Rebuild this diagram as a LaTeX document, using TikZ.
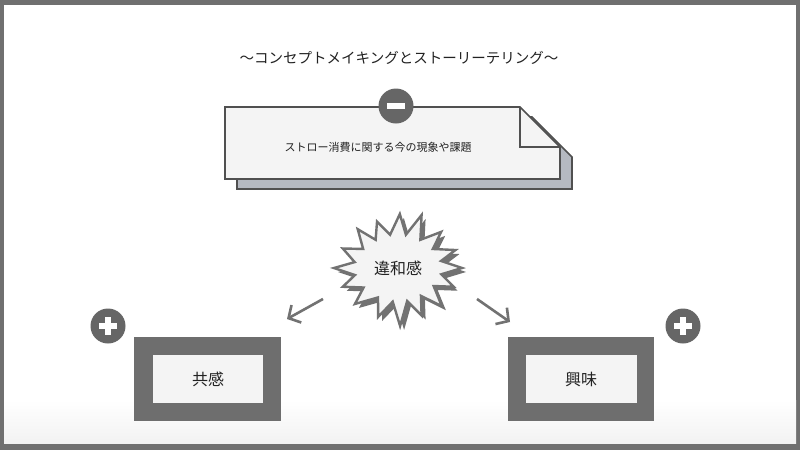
\documentclass[tikz,border=0pt]{standalone}
\usepackage{fontspec}
\newfontfamily\jp{Noto Sans CJK JP}
\usetikzlibrary{arrows.meta}
\definecolor{frame}{HTML}{707070}
\definecolor{boxdark}{HTML}{6E6E6E}
\definecolor{paper}{HTML}{F4F4F4}
\definecolor{circ}{HTML}{666666}
\definecolor{shadowblue}{HTML}{B5B9C1}
\definecolor{outline}{HTML}{505050}
\definecolor{txt}{HTML}{222222}
\definecolor{burst}{HTML}{727272}
\tikzset{
  lbl/.style={font=\jp, text=txt, inner sep=0pt},
  signcirc/.style={circle, fill=circ, minimum size=35pt, inner sep=0pt},
  signbar/.style={fill=white, draw=none},
  outerbox/.style={fill=boxdark, draw=none},
  innerbox/.style={fill=paper, draw=none},
  arr/.style={draw=burst, line width=2.6pt, -{Straight Barb[length=9pt,width=20pt,line width=2.6pt]}},
}
\begin{document}
\begin{tikzpicture}[x=1pt,y=-1pt]
\useasboundingbox (0,0) rectangle (800,450);
% frame
\fill[frame] (0,0) rectangle (800,450);
\fill[white] (4,5) rectangle (796,443);
\shade[top color=white, bottom color=black!5] (4,400) rectangle (796,443);

% title
\node[lbl, font=\jp\fontsize{14.5}{16}\selectfont] (title) at (399,58) {〜コンセプトメイキングとストーリーテリング〜};

% note with shadow
\filldraw[fill=shadowblue, draw=outline, line width=1.6pt]
  (237,117) -- (532,117) -- (572,157) -- (572,189) -- (237,189) -- cycle;
\filldraw[fill=paper, draw=outline, line width=1.6pt]
  (225,107) -- (520,107) -- (560,147) -- (560,179) -- (225,179) -- cycle;
\draw[outline, line width=1.6pt] (520,107) -- (520,147) -- (560,147);
\node[lbl, font=\jp\fontsize{11}{13}\selectfont] (problem) at (378,147) {ストロー消費に関する今の現象や課題};

% minus sign
\node[signcirc] (minus) at (396,106) {};
\fill[signbar] ([xshift=-9pt,yshift=-2.6pt]minus.center) rectangle ([xshift=9pt,yshift=2.6pt]minus.center);

% starburst
\begin{scope}[shift={(398,268)}]
\def\burstpath{(0:64 and 52) -- (10:44 and 36) -- (22:60 and 50) -- (32:42 and 34) -- (45:62 and 54) -- (55:40 and 34) -- (66:58 and 52) -- (76:38 and 34) -- (88:60 and 58) -- (98:38 and 34) -- (110:58 and 52) -- (120:40 and 34) -- (134:62 and 50) -- (145:42 and 34) -- (157:60 and 48) -- (168:44 and 34) -- (180:64 and 48) -- (190:44 and 34) -- (203:60 and 50) -- (214:42 and 34) -- (226:58 and 54) -- (236:40 and 34) -- (248:56 and 50) -- (258:38 and 34) -- (272:52 and 54) -- (282:38 and 34) -- (294:58 and 58) -- (304:40 and 34) -- (316:60 and 52) -- (326:42 and 34) -- (338:62 and 48) -- (348:44 and 34) -- cycle}
\fill[burst] [shift={(4,4)}] \burstpath;
\filldraw[fill=paper, draw=burst, line width=2.4pt, line join=miter] \burstpath;
\end{scope}
\node[lbl, font=\jp\fontsize{16}{18}\selectfont] (iwakan) at (398,268) {違和感};

% arrows
\coordinate (la) at (323,299);
\coordinate (lb) at (287,319);
\coordinate (ra) at (477,299);
\coordinate (rb) at (510,322);
\draw[arr] (la) -- (lb);
\draw[arr] (ra) -- (rb);

% left box
\fill[outerbox] (134,337) rectangle (281,421);
\fill[innerbox] (153,355) rectangle (263,403);
\node[lbl, font=\jp\fontsize{16}{18}\selectfont] (kyokan) at (208,379) {共感};
\node[signcirc] (plusl) at (108,326) {};
\fill[signbar] ([xshift=-9pt,yshift=-2.6pt]plusl.center) rectangle ([xshift=9pt,yshift=2.6pt]plusl.center);
\fill[signbar] ([xshift=-2.6pt,yshift=-9pt]plusl.center) rectangle ([xshift=2.6pt,yshift=9pt]plusl.center);

% right box
\fill[outerbox] (508,337) rectangle (654,421);
\fill[innerbox] (526,355) rectangle (637,403);
\node[lbl, font=\jp\fontsize{16}{18}\selectfont] (kyomi) at (581,379) {興味};
\node[signcirc] (plusr) at (683,326) {};
\fill[signbar] ([xshift=-9pt,yshift=-2.6pt]plusr.center) rectangle ([xshift=9pt,yshift=2.6pt]plusr.center);
\fill[signbar] ([xshift=-2.6pt,yshift=-9pt]plusr.center) rectangle ([xshift=2.6pt,yshift=9pt]plusr.center);
\end{tikzpicture}
\end{document}
